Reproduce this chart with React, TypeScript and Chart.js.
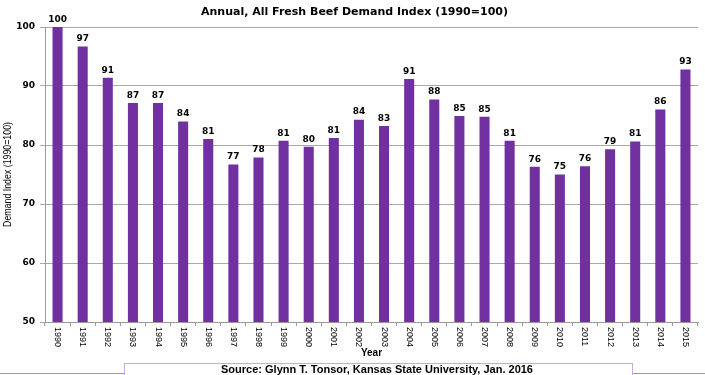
import React, { useEffect, useRef } from "react";
import { Chart, registerables } from "chart.js";

Chart.register(...registerables);

const years = [
  "1990", "1991", "1992", "1993", "1994", "1995", "1996", "1997", "1998", "1999",
  "2000", "2001", "2002", "2003", "2004", "2005", "2006", "2007", "2008", "2009",
  "2010", "2011", "2012", "2013", "2014", "2015",
];
const demandIndex = [
  100, 96.7, 91.4, 87.1, 87.1, 84.0, 81.0, 76.7, 77.9, 80.7,
  79.7, 81.2, 84.3, 83.2, 91.2, 87.7, 84.9, 84.8, 80.7, 76.3,
  75.0, 76.4, 79.3, 80.6, 86.0, 92.8,
];
const chartTitle = "Annual, All Fresh Beef Demand Index (1990=100)";
const yTitle = "Demand Index (1990=100)";
const xTitle = "Year";
const sourceText = "Source: Glynn T. Tonsor, Kansas State University, Jan. 2016";

const decorPlugin = {
  id: "decor",
  afterDraw(chart: any) {
    const ctx = chart.ctx;
    const area = chart.chartArea;
    const xScale = chart.scales.x;
    const W = chart.width;
    ctx.save();
    // title
    ctx.fillStyle = "#000";
    ctx.font = "bold 11px 'DejaVu Sans'";
    ctx.textAlign = "center";
    ctx.textBaseline = "middle";
    ctx.fillText(chartTitle, W / 2 + 2, 12);

    // data labels
    const meta = chart.getDatasetMeta(0);
    ctx.font = "bold 9px 'DejaVu Sans'";
    ctx.textBaseline = "bottom";
    meta.data.forEach((bar: any, i: number) => {
      ctx.fillText(String(Math.round(demandIndex[i])), bar.x, bar.y - 3);
    });

    // x tick labels, rotated clockwise
    ctx.font = "9px 'Liberation Sans', Arial";
    ctx.textAlign = "left";
    ctx.textBaseline = "middle";
    years.forEach((y, i) => {
      const x = xScale.getPixelForTick(i);
      ctx.save();
      ctx.translate(x, area.bottom + 5);
      ctx.rotate(Math.PI / 2);
      ctx.fillText(y, 0, 0);
      ctx.restore();
    });

    // x title
    ctx.font = "bold 10px 'Liberation Sans', Arial";
    ctx.textAlign = "center";
    ctx.fillText(xTitle, (area.left + area.right) / 2, 353);

    // y title
    ctx.save();
    ctx.translate(8, (area.top + area.bottom) / 2);
    ctx.rotate(-Math.PI / 2);
    ctx.scale(0.88, 1);
    ctx.font = "10px 'Liberation Sans', Arial";
    ctx.textAlign = "center";
    ctx.textBaseline = "middle";
    ctx.fillText(yTitle, 0, 0);
    ctx.restore();

    // bottom line and source box
    ctx.strokeStyle = "#9a9a9a";
    ctx.lineWidth = 1;
    ctx.beginPath();
    ctx.moveTo(0, 373.5);
    ctx.lineTo(W, 373.5);
    ctx.stroke();
    ctx.fillStyle = "#fff";
    ctx.fillRect(124, 363, 508, 12);
    ctx.strokeStyle = "#c8a8de";
    ctx.strokeRect(124.5, 363.5, 508, 14);
    ctx.fillStyle = "#000";
    ctx.font = "bold 11px 'Liberation Sans', Arial";
    ctx.textAlign = "center";
    ctx.textBaseline = "middle";
    ctx.fillText(sourceText, 377, 369.5);
    ctx.restore();
  },
};

export default function App() {
  const ref = useRef<HTMLCanvasElement>(null);
  useEffect(() => {
    document.body.style.margin = "0";
    const chart = new Chart(ref.current as HTMLCanvasElement, {
      type: "bar",
      data: {
        labels: years,
        datasets: [
          {
            data: demandIndex,
            backgroundColor: "#7030A0",
            barPercentage: 0.4,
            categoryPercentage: 1,
          },
        ],
      },
      options: {
        animation: false,
        responsive: false,
        layout: { padding: { top: 27, left: 0, right: 7, bottom: 20 } },
        plugins: { legend: { display: false }, tooltip: { enabled: false } },
        scales: {
          x: {
            offset: true,
            grid: {
              offset: true,
              drawOnChartArea: false,
              drawTicks: true,
              tickLength: 4,
              color: "#9a9a9a",
            },
            border: { color: "#9a9a9a" },
            ticks: { display: false },
            afterFit: (s: any) => {
              s.height = 33;
            },
          },
          y: {
            min: 50,
            max: 100,
            ticks: {
              stepSize: 10,
              color: "#000",
              font: { family: "'DejaVu Sans'", weight: "bold", size: 9 },
              padding: 5,
            },
            grid: { color: "#a8a8a8", tickLength: 5 },
            border: { color: "#9a9a9a" },
            afterFit: (s: any) => {
              s.width = 45;
            },
          },
        },
      },
      plugins: [decorPlugin],
    });
    return () => chart.destroy();
  }, []);
  return <canvas ref={ref} width={705} height={375} style={{ display: "block" }} />;
}
